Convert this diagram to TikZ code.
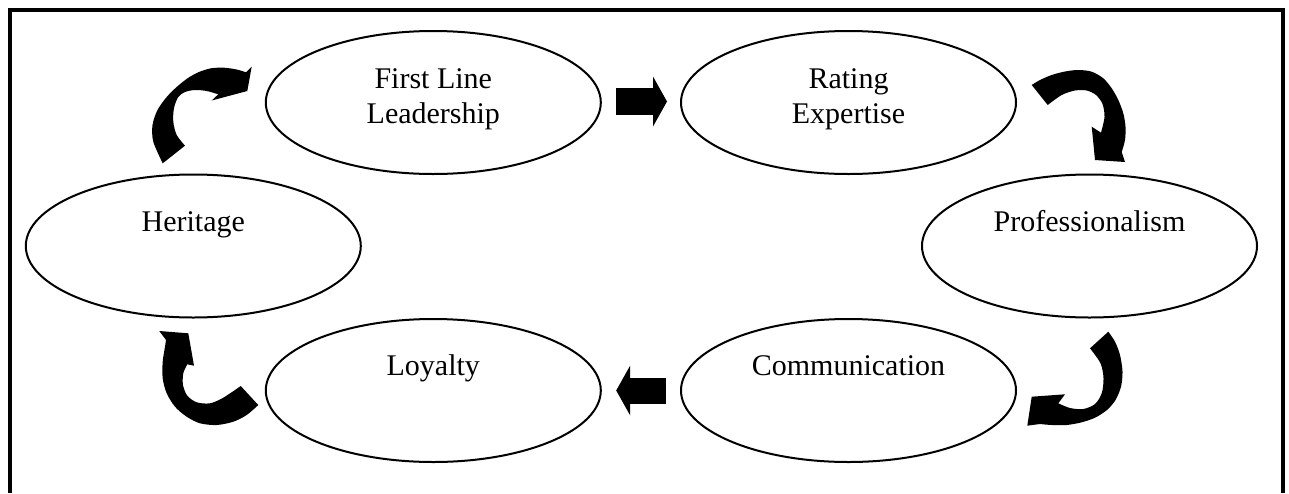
\documentclass[tikz,border=0pt]{standalone}
\usepackage{fontspec}
\setmainfont{Liberation Serif}
\usetikzlibrary{shapes.geometric,arrows.meta}
\begin{document}
\begin{tikzpicture}[x=0.5pt,y=-0.5pt,
  oval/.style={draw, ellipse, line width=1pt, minimum width=167.5pt,
               minimum height=71.5pt, inner sep=0pt},
  lbl/.style={anchor=base, align=center, inner sep=0pt,
              font=\fontsize{15}{17.5}\selectfont},
  blockarrow/.style={line width=#1, -{Triangle[width=25pt,length=7pt,line width=0pt]}},
  bendarrow/.style={fill=black}]
\useasboundingbox (0,0) rectangle (1289,493);

% open frame
\draw[line width=2pt] (9.5,493) -- (9.5,10) -- (1283,10) -- (1283,493);

% the six stages
\node[oval] (fl) at (433.3,102.5) {};
\node[oval] (re) at (848.5,102.5) {};
\node[oval] (pr) at (1089.5,246) {};
\node[oval] (co) at (848.5,390.5) {};
\node[oval] (lo) at (433.3,390.5) {};
\node[oval] (he) at (193.3,246) {};

% labels: two-line ones sit on the baseline of their last line
\node[lbl] (fl-t) at ([yshift=-10.25pt]fl.center) {First Line\\Leadership};
\node[lbl] (re-t) at ([yshift=-10.25pt]re.center) {Rating\\Expertise};
\node[lbl] (pr-t) at ([yshift=7.5pt]pr.center) {Professionalism};
\node[lbl] (co-t) at ([yshift=7.5pt]co.center) {Communication};
\node[lbl] (lo-t) at ([yshift=7.5pt]lo.center) {Loyalty};
\node[lbl] (he-t) at ([yshift=7.5pt]he.center) {Heritage};

% straight block arrows
\draw[blockarrow=13.5pt, shorten <=7.2pt, shorten >=6.5pt]
  ([yshift=0.5pt]fl.east) -- ([yshift=0.5pt]re.west);
\draw[blockarrow=13pt, shorten <=7.2pt, shorten >=7.2pt]
  (co.west) -- (lo.west -| lo.east);

% curved arrow: Heritage -> First Line Leadership
\fill[bendarrow] plot[smooth] coordinates {(162.7,163.3) (153.3,141.7) (152.5,125)
    (157.5,110) (166.7,97) (177,86.7) (188,78) (199,72) (211,68.3) (224,67.7)
    (236.7,69.5) (246,72.3)}
  -- (251.7,66.7) -- (247.3,91) -- (211.7,100.5)
  -- plot[smooth] coordinates {(218.3,94.3) (206.7,91) (195,90) (185,92)
    (178.3,97) (174,108) (173.3,121.7) (176.7,135) (185,145.7)}
  -- cycle;

% curved arrow: Rating Expertise -> Professionalism
\fill[bendarrow] plot[smooth] coordinates {(1031.7,85) (1040,80) (1051.7,75)
    (1065,71.5) (1078.3,70) (1091.7,71.7) (1103.3,78.3) (1111.7,88.3)
    (1118.3,100) (1123.3,113.3) (1125.5,126.7) (1125,140) (1121.7,152)}
  -- (1125,162) -- (1095,160) -- (1091.7,126.7)
  -- plot[smooth] coordinates {(1101,132.7) (1104.5,117) (1102.5,104) (1096,95)
    (1086.7,90.5) (1075,90.5) (1061.7,95) (1047.7,105)}
  -- cycle;

% curved arrow: Professionalism -> Communication
\fill[bendarrow] plot[smooth] coordinates {(1108.3,331.7) (1115,341.7) (1120,355)
    (1122.5,371.7) (1121,386.7) (1115.5,400) (1107,410) (1095,417.7)
    (1081.7,422.3) (1066.7,425) (1051.7,425) (1040,424)}
  -- (1027.3,425.7) -- (1031.7,396.7) -- (1065,394.3)
  -- plot[smooth] coordinates {(1058.3,403.3) (1070,408) (1083.3,409) (1095,404)
    (1101.7,393.3) (1103.5,378.3) (1100.5,363.3) (1090,348.3)}
  -- cycle;

% curved arrow: Loyalty -> Heritage
\fill[bendarrow] (159.3,331) -- (188.3,333.3) -- (194,365.7)
  -- plot[smooth] coordinates {(187.3,364.3) (183.3,373.3) (183,385) (187.3,395.7)
    (196.7,402.3) (210,403.3) (223.3,397.7) (240.7,386)}
  -- plot[smooth] coordinates {(258.3,405) (246.7,415) (233.3,421.7) (216.7,425)
    (200,423.3) (186.7,416.7) (175,406.7) (166.7,393.3) (162.7,378.3)
    (162.7,361.7) (165,346.7) (166,340)}
  -- cycle;
\end{tikzpicture}
\end{document}
